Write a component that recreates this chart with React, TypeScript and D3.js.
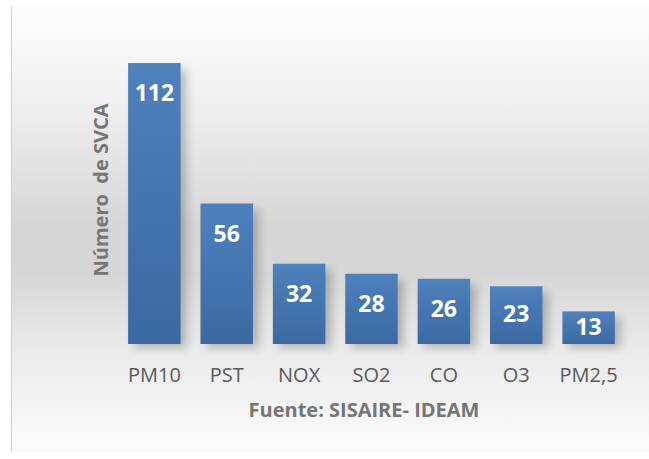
import React from "react";
import * as d3 from "d3";

const categories = ["PM10", "PST", "NOX", "SO2", "CO", "O3", "PM2,5"];
const values = [112, 56, 32, 28, 26, 23, 13];
const xTitle = "Fuente: SISAIRE- IDEAM";
const yTitle = "Número  de SVCA";

const W = 649;
const H = 459;

export default function App() {
  const x = d3.scaleBand<string>().domain(categories).range([118, 625]).paddingInner(0.275).paddingOuter(0.14);
  const y = d3.scaleLinear().domain([0, 120]).range([344, 43]);
  const font = "'Open Sans', 'DejaVu Sans', sans-serif";
  return (
    <div style={{ position: "fixed", left: 0, top: 0 }}>
      <svg width={W} height={H} style={{ display: "block" }}>
        <defs>
          <linearGradient id="bg" x1="0" y1="0" x2="0" y2="1">
            <stop offset="0" stopColor="#fdfdfd" />
            <stop offset="0.23" stopColor="#eeeeee" />
            <stop offset="0.5" stopColor="#d5d5d5" />
            <stop offset="0.6" stopColor="#d6d6d6" />
            <stop offset="0.77" stopColor="#eaeaea" />
            <stop offset="1" stopColor="#fcfcfc" />
          </linearGradient>
          <linearGradient id="bar" x1="0" y1="0" x2="0" y2="1">
            <stop offset="0" stopColor="#4f81bd" />
            <stop offset="1" stopColor="#3b69a2" />
          </linearGradient>
          <filter id="sh" x="-50%" y="-20%" width="200%" height="140%">
            <feGaussianBlur stdDeviation="4" />
          </filter>
        </defs>
        <rect x={0} y={0} width={W} height={H} fill="#ffffff" />
        <rect x={11} y={6} width={W - 11} height={446} fill="url(#bg)" />
        <line x1={11.5} y1={6} x2={11.5} y2={452} stroke="#d0d0d0" strokeWidth={1} />
        {categories.map((c, i) => {
          const bx = x(c)!;
          const bw = x.bandwidth();
          const top = y(values[i]);
          const bottom = y(0);
          return (
            <rect key={"s" + c} x={bx + 6} y={top + 6} width={bw} height={bottom - top - 2}
              fill="#000" opacity={0.22} filter="url(#sh)" />
          );
        })}
        {categories.map((c, i) => {
          const bx = x(c)!;
          const bw = x.bandwidth();
          const top = y(values[i]);
          const bottom = y(0);
          const base = Math.min(top + 38, (top + bottom) / 2 + 7);
          return (
            <g key={c}>
              <rect x={bx} y={top} width={bw} height={bottom - top} fill="url(#bar)" />
              <text x={bx + bw / 2} y={base} textAnchor="middle" fill="#ffffff"
                fontFamily={font} fontWeight={700} fontSize={23}>{values[i]}</text>
              <text x={bx + bw / 2} y={382} textAnchor="middle" fill="#595959"
                fontFamily={font} fontSize={20}>{c}</text>
            </g>
          );
        })}
        <text x={364} y={417} textAnchor="middle" fill="#757575" fontFamily={font}
          fontWeight={700} fontSize={20}>{xTitle}</text>
        <text transform="translate(108,190) rotate(-90)" textAnchor="middle" fill="#757575"
          fontFamily={font} fontWeight={700} fontSize={20} style={{ whiteSpace: "pre" }}>{yTitle}</text>
      </svg>
    </div>
  );
}
